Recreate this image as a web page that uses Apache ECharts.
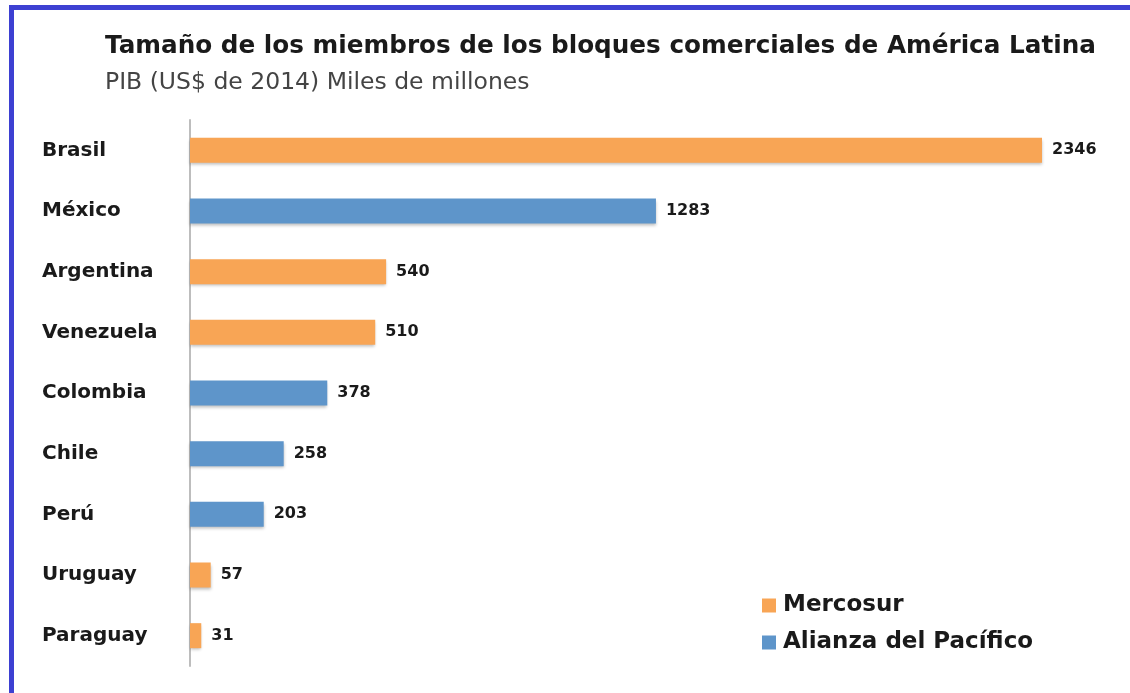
<!DOCTYPE html>
<html>
<head>
<meta charset="utf-8">
<style>
  html, body { margin: 0; padding: 0; background: #fff; }
  #chart { width: 1130px; height: 693px; }
</style>
<script src="https://cdn.jsdelivr.net/npm/echarts@6/dist/echarts.min.js"></script>
</head>
<body>
<div id="chart"></div>
<script>
// datos: PIB 2014, miles de millones de US$
const paises = ['Brasil', 'México', 'Argentina', 'Venezuela', 'Colombia', 'Chile', 'Perú', 'Uruguay', 'Paraguay'];
const pib = [2346, 1283, 540, 510, 378, 258, 203, 57, 31];
const bloque = ['Mercosur', 'Alianza del Pacífico', 'Mercosur', 'Mercosur', 'Alianza del Pacífico',
  'Alianza del Pacífico', 'Alianza del Pacífico', 'Mercosur', 'Mercosur'];
const bloques = ['Mercosur', 'Alianza del Pacífico'];
const colores = ['#F8A555', '#5E95CA'];

var myChart = echarts.init(document.getElementById('chart'));

// una serie por bloque, '-' donde el país no pertenece
let series = bloques.map(function(b, i) {
  return {
    name: b,
    type: 'bar',
    barWidth: 25,
    barGap: '-100%',
    itemStyle: {
      color: colores[i],
      shadowColor: 'rgba(0,0,0,0.25)',
      shadowBlur: 3,
      shadowOffsetY: 2
    },
    label: {
      show: true,
      position: 'right',
      distance: 10,
      fontFamily: 'DejaVu Sans',
      fontWeight: 'bold',
      fontSize: 16,
      color: '#1a1a1a'
    },
    data: pib.map(function(v, j) { return bloque[j] === b ? v : '-'; })
  };
});

let option = {
  animation: false,
  backgroundColor: '#fff',
  title: [{
    text: 'Tamaño de los miembros de los bloques comerciales de América Latina',
    left: 100,
    top: 29,
    textStyle: { fontFamily: 'DejaVu Sans', fontWeight: 'bold', fontSize: 24.7, color: '#1a1a1a' }
  }, {
    text: 'PIB (US$ de 2014) Miles de millones',
    left: 100,
    top: 66,
    textStyle: { fontFamily: 'DejaVu Sans', fontWeight: 'normal', fontSize: 23.5, color: '#444' }
  }],
  legend: {
    orient: 'vertical',
    left: 757,
    top: 589,
    itemWidth: 14,
    itemHeight: 14,
    itemGap: 14,
    icon: 'rect',
    data: bloques,
    textStyle: { fontFamily: 'DejaVu Sans', fontWeight: 'bold', fontSize: 23, color: '#1a1a1a', padding: [0, 0, 0, 2] }
  },
  graphic: [
    { type: 'rect', shape: { x: 9, y: 5, width: 1121, height: 5 }, style: { fill: '#3d40d2' } },
    { type: 'rect', shape: { x: 9, y: 5, width: 5, height: 688 }, style: { fill: '#3d40d2' } }
  ],
  grid: { left: 190, top: 120, width: 852, height: 546 },
  xAxis: {
    type: 'value',
    min: 0,
    max: 2346,
    show: false
  },
  yAxis: {
    type: 'category',
    inverse: true,
    data: paises,
    axisLine: { show: true, lineStyle: { color: '#bdbdbd', width: 2 } },
    axisTick: { show: false },
    axisLabel: {
      align: 'left',
      margin: 148,
      fontFamily: 'DejaVu Sans',
      fontWeight: 'bold',
      fontSize: 20,
      color: '#1a1a1a'
    }
  },
  series: series
};

myChart.setOption(option);
</script>
</body>
</html>
